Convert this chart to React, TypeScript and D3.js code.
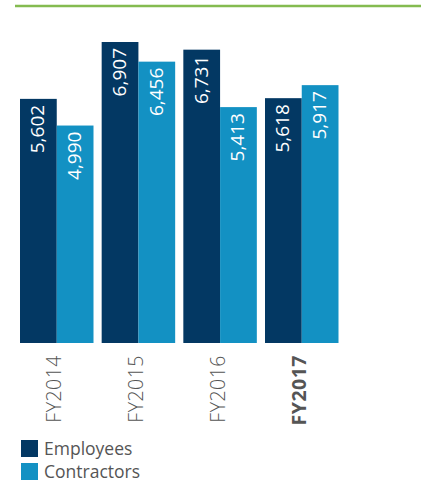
import React from "react";
import * as d3 from "d3";

const years = ["FY2014", "FY2015", "FY2016", "FY2017"];
const series = ["Employees", "Contractors"];
const employees = [5602, 6907, 6731, 5618];
const contractors = [4990, 6456, 5413, 5917];
const colors = ["#033863", "#1391c3"];

const App: React.FC = () => {
  const width = 421;
  const height = 483;
  const fmt = d3.format(",");

  const x0 = d3.scaleBand<string>().domain(years).range([20, 338.5]).paddingInner(0.1).paddingOuter(0);
  const x1 = d3.scaleBand<string>().domain(series).range([0, x0.bandwidth()]);
  const y = d3.scaleLinear().domain([0, 6907]).range([343, 42]);

  const values = [employees, contractors];

  return (
    <svg width={width} height={height} style={{ position: "absolute", left: 0, top: 0 }}
      fontFamily="'Open Sans', sans-serif">
      <line x1={15} x2={421} y1={6} y2={6} stroke="#84bb50" strokeWidth={2.5} />
      {years.map((yr, i) => (
        <g key={yr} transform={`translate(${x0(yr)},0)`}>
          {series.map((s, j) => {
            const v = values[j][i];
            const bx = x1(s)!;
            const bw = x1.bandwidth();
            const cx = bx + bw / 2;
            return (
              <g key={s}>
                <rect x={bx} y={y(v)} width={bw} height={y(0) - y(v)} fill={colors[j]} />
                <text transform={`translate(${cx - 1},${y(v) + 6}) rotate(-90)`}
                  textAnchor="end" dominantBaseline="central" fill="#fff" fontSize={19}>
                  {fmt(v)}
                </text>
              </g>
            );
          })}
          <text transform={`translate(${x0.bandwidth() / 2 - 3},${y(0) + 12}) rotate(-90)`}
            textAnchor="end" dominantBaseline="central" fill="#555" fontSize={19.5}
            letterSpacing={0.5} fontWeight={yr === "FY2017" ? "bold" : 300}>
            {yr}
          </text>
        </g>
      ))}
      {series.map((s, j) => (
        <g key={s} transform={`translate(21,${440 + j * 23})`}>
          <rect width={17} height={17} fill={colors[j]} />
          <text x={23} y={15} fill="#555" fontSize={17.5}>{s}</text>
        </g>
      ))}
    </svg>
  );
};

export default App;
